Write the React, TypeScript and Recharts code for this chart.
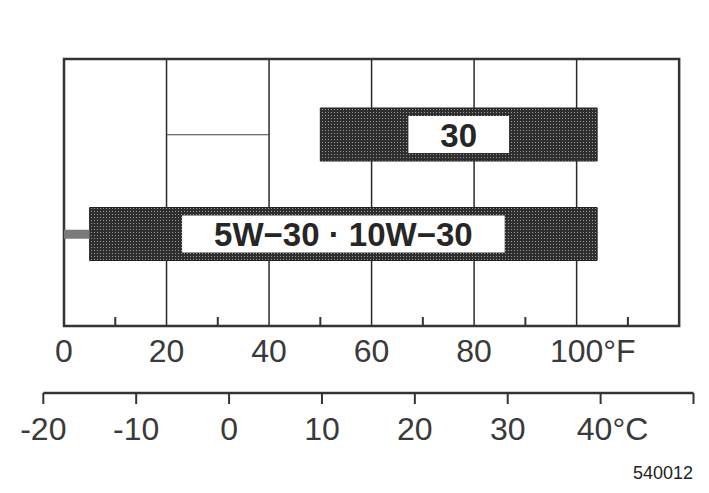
import React from "react";
import {
  BarChart,
  Bar,
  XAxis,
  YAxis,
  CartesianGrid,
  ReferenceArea,
  ReferenceLine,
  LabelList,
} from "recharts";

// ---- data ----
const grades = ["30", "5W−30 · 10W−30"];
const lowF = [50, 5];
const highF = [104, 104];
const fahrenheitTicks = [0, 10, 20, 30, 40, 50, 60, 70, 80, 90, 100, 110];
const fahrenheitLabels = [0, 20, 40, 60, 80, 100];
const celsiusTicks = [-20, -10, 0, 10, 20, 30, 40, 50];
const celsiusLabels = [-20, -10, 0, 10, 20, 30, 40];
const gridLinesF = [20, 40, 60, 80, 100];
const frameF = [0, 120];
const stubF = [0, 5];
const thinLineF = [20, 40];
const figureCode = "540012";

const data = grades.map((name, i) => ({ name, range: [lowF[i], highF[i]] }));

const F_ID = "a-fahrenheit";
const C_ID = "b-celsius";

const FONT = "'Liberation Sans', Arial, Helvetica, sans-serif";
const TICK_FS = 32;
const LABEL_FS = 33;

const charW: Record<string, number> = { W: 0.944, "−": 0.584, " ": 0.278, "·": 0.333 };
const textWidth = (s: string, fs: number) =>
  s.split("").reduce((a, c) => a + (charW[c] ?? 0.556) * fs, 0);

const FTick = (props: any) => {
  const { x, y, payload } = props;
  const v = payload.value;
  if (fahrenheitLabels.includes(v)) {
    const num = String(v);
    const unit = v === 100 ? "°F" : "";
    const w = num.length * 0.556 * TICK_FS;
    return (
      <text x={x - w / 2} y={y + 36} fontSize={TICK_FS} fontFamily={FONT} fill="#3a3a3a" textAnchor="start">
        {num + unit}
      </text>
    );
  }
  return <line x1={x} x2={x} y1={y} y2={y - 9} stroke="#333" strokeWidth={2} />;
};

const CTick = (props: any) => {
  const { x, y, payload } = props;
  const v = payload.value;
  const hasLabel = celsiusLabels.includes(v);
  const isLast = v === 40;
  const num = String(v);
  const w = num.length * 0.556 * TICK_FS;
  return (
    <g>
      <line x1={x} x2={x} y1={y} y2={y + 11} stroke="#333" strokeWidth={2} />
      {hasLabel && (
        <text
          x={isLast ? x - w / 2 - 6 : x}
          y={y + 47}
          fontSize={TICK_FS}
          fontFamily={FONT}
          fill="#3a3a3a"
          textAnchor={isLast ? "start" : "middle"}
        >
          {isLast ? num + "°C" : num}
        </text>
      )}
    </g>
  );
};

const GradeLabel = (props: any) => {
  const vb = props.viewBox ?? props;
  const x = props.x ?? vb.x;
  const y = props.y ?? vb.y;
  const width = props.width ?? vb.width;
  const height = props.height ?? vb.height;
  const value = String(props.value);
  const left = Math.min(x, x + width);
  const cx = left + Math.abs(width) / 2;
  const cy = y + height / 2;
  const tw = textWidth(value, LABEL_FS);
  const bw = tw + 64;
  const bh = Math.abs(height) - 16;
  return (
    <g>
      <rect x={cx - bw / 2} y={cy - bh / 2} width={bw} height={bh} fill="#ffffff" />
      <text
        x={cx}
        y={cy + 12}
        textAnchor="middle"
        fontSize={LABEL_FS}
        fontFamily={FONT}
        fontWeight="bold"
        fill="#262626"
      >
        {value}
      </text>
    </g>
  );
};

export default function App() {
  return (
    <div style={{ position: "absolute", left: 0, top: 0, background: "#fff" }}>
      <BarChart
        width={709}
        height={493}
        data={data}
        layout="vertical"
        margin={{ top: 59, right: 15.5, left: 43.3, bottom: 40 }}
      >
        <defs>
          <pattern id="halftone" width="3" height="3" patternUnits="userSpaceOnUse">
            <rect width="3" height="3" fill="#2e2e2e" />
            <rect x="1" y="1" width="1" height="1" fill="#9a9a9a" />
          </pattern>
        </defs>
        <CartesianGrid
          xAxisId={F_ID}
          horizontal={false}
          verticalValues={gridLinesF}
          stroke="#2a2a2a"
          strokeWidth={1.5}
        />
        <XAxis
          xAxisId={F_ID}
          type="number"
          orientation="bottom"
          domain={[-4.04, 122.8]}
          ticks={fahrenheitTicks}
          interval={0}
          axisLine={false}
          tickLine={false}
          tickSize={0}
          tickMargin={0}
          tick={<FTick />}
          height={67}
          allowDataOverflow
        />
        <XAxis
          xAxisId={C_ID}
          type="number"
          orientation="bottom"
          domain={[-20, 50]}
          ticks={celsiusTicks}
          interval={0}
          axisLine={{ stroke: "#333", strokeWidth: 2.5 }}
          tickLine={false}
          tickSize={0}
          tickMargin={0}
          tick={<CTick />}
          height={60}
          allowDataOverflow
        />
        <YAxis type="category" dataKey="name" hide padding={{ top: 26, bottom: 42 }} />
        <YAxis yAxisId="frame" type="number" domain={[0, 1]} hide allowDataOverflow />
        <ReferenceArea
          xAxisId={F_ID}
          yAxisId="frame"
          x1={frameF[0]}
          x2={frameF[1]}
          y1={0}
          y2={1}
          fill="none"
          fillOpacity={0}
          stroke="#333"
          strokeWidth={2.5}
          ifOverflow="visible"
        />
        <ReferenceLine
          xAxisId={F_ID}
          segment={[
            { x: thinLineF[0], y: grades[0] },
            { x: thinLineF[1], y: grades[0] },
          ]}
          stroke="#444"
          strokeWidth={1}
        />
        <ReferenceLine
          xAxisId={F_ID}
          segment={[
            { x: stubF[0], y: grades[1] },
            { x: stubF[1], y: grades[1] },
          ]}
          stroke="#7a7a7a"
          strokeWidth={9}
        />
        <Bar
          xAxisId={F_ID}
          dataKey="range"
          fill="url(#halftone)"
          stroke="#222"
          strokeWidth={1}
          barSize={53}
          isAnimationActive={false}
        >
          <LabelList dataKey="name" content={<GradeLabel />} />
        </Bar>
        <text x={693} y={479} textAnchor="end" fontSize={18} fontFamily={FONT} fill="#222">
          {figureCode}
        </text>
      </BarChart>
    </div>
  );
}
